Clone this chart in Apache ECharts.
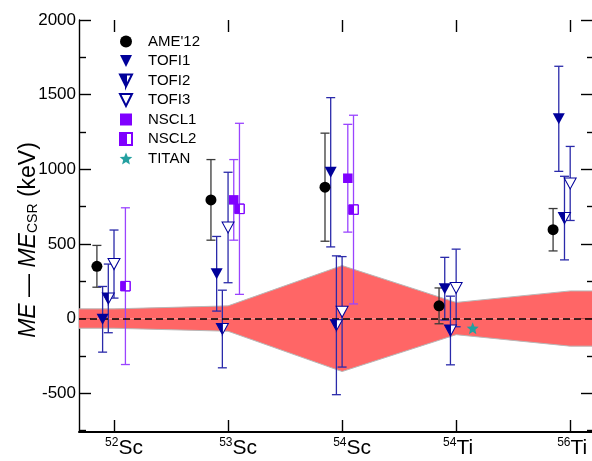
<!DOCTYPE html>
<html>
<head>
<meta charset="utf-8">
<script src="https://cdn.jsdelivr.net/npm/echarts@6/dist/echarts.min.js"></script>
<style>html,body{margin:0;padding:0;background:#fff;}#c{width:592px;height:461px;}</style>
</head>
<body>
<div id="c"></div>
<script>
// ---- data ----
const isoMass = ['52', '53', '54', '54', '56'];
const isoElem = ['Sc', 'Sc', 'Sc', 'Ti', 'Ti'];
const catPos = [1, 2, 3, 4, 5];

const ameIdx = [1, 2, 3, 4, 5];
const ameVal = [350, 795, 880, 85, 595];
const ameErr = [140, 270, 362, 120, 142];

const tofi1Idx = [1, 2, 3, 4, 5];
const tofi1Val = [-5, 300, 980, 200, 1338];
const tofi1Err = [220, 250, 500, 210, 352];

const tofi2Idx = [1, 2, 3, 4, 5];
const tofi2Val = [135, -70, -45, -80, 673];
const tofi2Err = [230, 260, 465, 230, 280];

const tofi3Idx = [1, 2, 3, 4, 5];
const tofi3Val = [365, 610, 45, 205, 905];
const tofi3Err = [228, 370, 370, 260, 248];

const nscl1Idx = [2, 3];
const nscl1Val = [795, 940];
const nscl1Err = [270, 361];

const nscl2Idx = [1, 2, 3];
const nscl2Val = [217, 735, 730];
const nscl2Err = [525, 573, 632];

const titanIdx = [4];
const titanVal = [-65];

// CSR uncertainty band (half width, keV) at each nuclide
const bandIdx = [1, 2, 3, 4, 5];
const bandHalf = [65, 85, 355, 108, 185];

const yTicksMajor = [-500, 0, 500, 1000, 1500, 2000];
const yTicksMinor = [-750, -250, 250, 750, 1250, 1750];

// ---- layout / style ----
const xMin = 0.693, xMax = 5.2;
const yMin = -760, yMax = 2000;
const off = { ame: -0.15, t1: -0.1, t2: -0.05, t3: 0, n1: 0.05, n2: 0.1, ti: 0.145 };

const triPath = 'path://M0,0L100,0L50,100Z';
const triHalfPath = 'path://M0,0L100,0L50,100Z M50,0L50,100L100,0Z';
const sqPath = 'path://M0,0L100,0L100,100L0,100Z';
const sqHalfPath = 'path://M0,0L100,0L100,100L0,100Z M50,0L50,100L100,100L100,0Z';
const starPath = 'path://M50,2L63.23,33.8L97.55,36.55L71.4,58.95L79.39,92.45L50,74.5L20.61,92.45L28.6,58.95L2.45,36.55L36.77,33.8Z';

const NAVY = '#00009a', TOFI_EB = '#2a2aaa';
const PURPLE = '#7f00ff', NSCL_EB = '#9a44ff';
const FONT = 'Liberation Sans';

function pts(idx, o, vals, errs) {
  return idx.map((c, i) => errs ? [c + o, vals[i], errs[i]] : [c + o, vals[i]]);
}

function errSeries(data, color) {
  return {
    type: 'custom', silent: true, z: 3,
    encode: { x: 0, y: 1 },
    data: data,
    renderItem: function (params, api) {
      const x = api.value(0), v = api.value(1), e = api.value(2);
      const t = api.coord([x, v + e]), b = api.coord([x, v - e]);
      const hw = 4.5;
      const st = { stroke: color, lineWidth: 1.3, fill: null };
      return { type: 'group', children: [
        { type: 'line', shape: { x1: t[0], y1: t[1], x2: b[0], y2: b[1] }, style: st },
        { type: 'line', shape: { x1: t[0] - hw, y1: t[1], x2: t[0] + hw, y2: t[1] }, style: st },
        { type: 'line', shape: { x1: b[0] - hw, y1: b[1], x2: b[0] + hw, y2: b[1] }, style: st }
      ]};
    }
  };
}

function scat(name, data, symbol, size, itemStyle, z) {
  return { type: 'scatter', name: name, data: data, symbol: symbol, symbolSize: size,
    itemStyle: Object.assign({ opacity: 1 }, itemStyle), z: z || 5, silent: true, emphasis: { disabled: true } };
}

const bandUpper = [[xMin, bandHalf[0]]].concat(bandIdx.map((c, i) => [c, bandHalf[i]])).concat([[xMax, bandHalf[bandHalf.length - 1]]]);
const bandLower = bandUpper.map(p => [p[0], -p[1]]);

const bandStyle = (d) => ({
  type: 'line', data: d, symbol: 'none', silent: true, z: 1,
  lineStyle: { color: '#b8b8b8', width: 1 },
  areaStyle: { color: '#ff6666', opacity: 1, origin: 0 }
});

const chart = echarts.init(document.getElementById('c'), null, { renderer: 'canvas' });

const series = [
  bandStyle(bandUpper),
  Object.assign(bandStyle(bandLower), {
    markLine: { silent: true, symbol: 'none', label: { show: false },
      lineStyle: { color: '#000', type: [7, 4], width: 1.5 },
      data: [{ yAxis: 0 }] }
  }),
  errSeries(pts(ameIdx, off.ame, ameVal, ameErr), '#3a3a3a'),
  errSeries(pts(tofi1Idx, off.t1, tofi1Val, tofi1Err), TOFI_EB),
  errSeries(pts(tofi2Idx, off.t2, tofi2Val, tofi2Err), TOFI_EB),
  errSeries(pts(tofi3Idx, off.t3, tofi3Val, tofi3Err), TOFI_EB),
  errSeries(pts(nscl1Idx, off.n1, nscl1Val, nscl1Err), NSCL_EB),
  errSeries(pts(nscl2Idx, off.n2, nscl2Val, nscl2Err), NSCL_EB),
  scat("AME'12", pts(ameIdx, off.ame, ameVal), 'circle', 11, { color: '#000' }),
  scat('TOFI1', pts(tofi1Idx, off.t1, tofi1Val), triPath, [12, 11], { color: NAVY }),
  scat('_t2bg', pts(tofi2Idx, off.t2, tofi2Val), triPath, [12, 11], { color: '#fff' }, 4),
  scat('TOFI2', pts(tofi2Idx, off.t2, tofi2Val), triHalfPath, [12, 11], { color: NAVY, borderColor: NAVY, borderWidth: 1 }),
  scat('TOFI3', pts(tofi3Idx, off.t3, tofi3Val), triPath, [12, 11], { color: '#fff', borderColor: NAVY, borderWidth: 1 }),
  scat('NSCL1', pts(nscl1Idx, off.n1, nscl1Val), sqPath, 9.5, { color: PURPLE }),
  scat('_n2bg', pts(nscl2Idx, off.n2, nscl2Val), sqPath, 9.5, { color: '#fff' }, 4),
  scat('NSCL2', pts(nscl2Idx, off.n2, nscl2Val), sqHalfPath, 9.5, { color: PURPLE, borderColor: PURPLE, borderWidth: 1 }),
  scat('TITAN', pts(titanIdx, off.ti, titanVal), starPath, 12, { color: '#23a0a0' })
];

const tickAxisCommon = { type: 'value', min: yMin, max: yMax, splitLine: { show: false }, minorTick: { show: false } };
const tickLine = { color: '#000', width: 1.4 };

chart.setOption({
  animation: false,
  backgroundColor: '#fff',
  textStyle: { fontFamily: FONT },
  grid: { left: 79, top: 20, width: 514, height: 412, containLabel: false, outerBoundsMode: 'none' },
  legend: {
    orient: 'vertical', left: 114, top: 29,
    itemWidth: 34, itemHeight: 12, itemGap: 4.5,
    data: ["AME'12", 'TOFI1', 'TOFI2', 'TOFI3', 'NSCL1', 'NSCL2', 'TITAN'],
    textStyle: { fontFamily: FONT, fontSize: 15, color: '#000' },
    selectedMode: false
  },
  xAxis: [
    { type: 'value', position: 'bottom', min: xMin, max: xMax, splitLine: { show: false }, minorTick: { show: false },
      axisLine: { show: true, onZero: false, lineStyle: { color: '#000', width: 2 } },
      axisTick: { show: true, inside: true, length: 12, customValues: catPos, lineStyle: tickLine },
      axisLabel: { customValues: catPos, margin: 5, color: '#000',
        formatter: function (v) { const i = Math.round(v) - 1; const sp = isoElem[i] === 'Sc' ? 'ps' : 'pt'; return '{' + sp + '| }{m|' + isoMass[i] + '}{e|' + isoElem[i] + '}'; },
        rich: {
          ps: { fontSize: 12, width: 20 },
          pt: { fontSize: 12, width: 4 },
          m: { fontFamily: FONT, fontSize: 12, color: '#000', verticalAlign: 'top', lineHeight: 22 },
          e: { fontFamily: FONT, fontSize: 21, color: '#000', lineHeight: 22 }
        }
      }
    },
    { type: 'value', position: 'top', min: xMin, max: xMax, splitLine: { show: false }, minorTick: { show: false },
      axisLine: { show: true, onZero: false, lineStyle: { color: 'rgba(0,0,0,0)', width: 1 } },
      axisTick: { show: true, inside: true, length: 12, customValues: catPos, lineStyle: tickLine },
      axisLabel: { show: false }
    }
  ],
  yAxis: [
    Object.assign({}, tickAxisCommon, { position: 'left',
      axisLine: { show: true, onZero: false, lineStyle: { color: '#000', width: 1.4 } },
      axisTick: { show: true, inside: true, length: 12, customValues: yTicksMajor, lineStyle: tickLine },
      axisLabel: { customValues: yTicksMajor, margin: 3, fontFamily: FONT, fontSize: 17, color: '#000',
        formatter: function (v) { return String(v); } },
      name: '{i|ME} — {i|ME}{s|CSR} (keV)',
      nameLocation: 'middle', nameRotate: 90, nameGap: 39, nameMoveOverlap: false,
      nameTextStyle: { fontFamily: FONT, fontSize: 23, color: '#000', padding: [0, 28, 0, 0],
        rich: {
          i: { fontFamily: FONT, fontSize: 23, fontStyle: 'italic', color: '#000' },
          s: { fontFamily: FONT, fontSize: 14, color: '#000', verticalAlign: 'bottom', padding: [9, 0, 0, 0] }
        }
      }
    }),
    Object.assign({}, tickAxisCommon, { position: 'left',
      axisLine: { show: false },
      axisTick: { show: true, inside: true, length: 7, customValues: yTicksMinor, lineStyle: tickLine },
      axisLabel: { show: false }
    }),
    Object.assign({}, tickAxisCommon, { position: 'right',
      axisLine: { show: false },
      axisTick: { show: true, inside: true, length: 12, customValues: yTicksMajor, lineStyle: tickLine },
      axisLabel: { show: false }
    }),
    Object.assign({}, tickAxisCommon, { position: 'right',
      axisLine: { show: false },
      axisTick: { show: true, inside: true, length: 6, customValues: yTicksMinor, lineStyle: tickLine },
      axisLabel: { show: false }
    })
  ],
  series: series
});
</script>
</body>
</html>
